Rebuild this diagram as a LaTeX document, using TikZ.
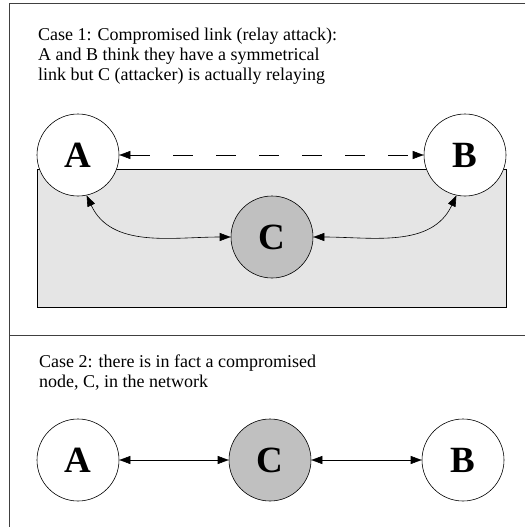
\documentclass[tikz,border=0pt]{standalone}
\usepackage{fontspec}
\setmainfont{Liberation Serif}
\usetikzlibrary{arrows.meta}
\begin{document}
\begin{tikzpicture}[x=1pt,y=-1pt,
  ent/.style={circle,draw,line width=0.6pt,minimum size=82pt,inner sep=0pt,fill=white,
    font=\fontsize{37}{37}\selectfont\bfseries},
  bad/.style={ent,fill=cgray},
  lnk/.style={{Triangle[length=11pt,width=8pt]}-{Triangle[length=11pt,width=8pt]},line width=0.6pt},
  caption/.style={anchor=north west,align=left,inner sep=0pt,font=\fontsize{18}{20}\selectfont}]
\definecolor{cgray}{HTML}{C0C0C0}
\definecolor{lgray}{HTML}{E5E5E5}
\useasboundingbox (0,0) rectangle (525,527);
% frame
\draw[line width=1pt,draw=black!75] (525,4) -- (9,4) -- (9,527);
\draw[line width=1pt,draw=black!75] (9,335) -- (525,335);
% shaded area
\draw[fill=lgray,line width=0.8pt] (37,169) rectangle (506,307);
% captions
\node[caption] (t1) at (38,27.5) {Case 1: Compromised link (relay attack):\\A and B think they have a symmetrical\\link but C (attacker) is actually relaying};
\node[caption] (t2) at (39,354.5) {Case 2: there is in fact a compromised\\node, C, in the network};
% case 1
\node[ent] (A1) at (78,155) {A};
\node[ent] (B1) at (465,155) {B};
\node[bad] (C1) at (272,237) {C};
\draw[lnk,dash pattern=on 20pt off 23pt] (A1) -- (B1);
\draw[lnk] (A1.-78) to[out=-65,in=180] (C1.west);
\draw[lnk] (B1.-102) to[out=-115,in=0] (C1.east);
% case 2
\node[ent] (A2) at (78,460) {A};
\node[bad] (C2) at (270,460) {C};
\node[ent] (B2) at (463,460) {B};
\draw[lnk] (A2) -- (C2);
\draw[lnk] (C2) -- (B2);
\end{tikzpicture}
\end{document}
